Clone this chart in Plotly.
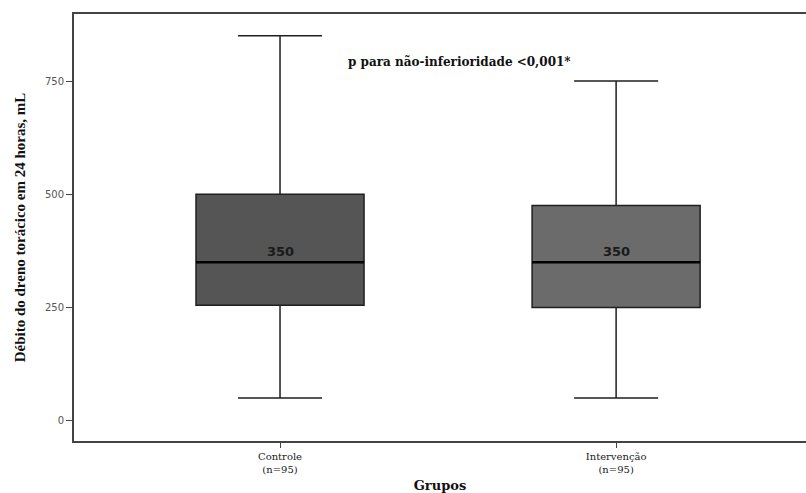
import plotly.graph_objects as go

# Chest drain output at 24 h per group (mL)
groups = ["Controle", "Intervenção"]
group_n = [95, 95]
lower_whisker = [50, 50]
q1 = [255, 250]
median = [350, 350]
q3 = [500, 475]
upper_whisker = [850, 750]
fills = ["#555555", "#6b6b6b"]

y_ticks = [0, 250, 500, 750]
p_text = "p para não-inferioridade <0,001*"
p_pos = (0.535, 792)

box_width = 0.5

fig = go.Figure()
for i, g in enumerate(groups):
    fig.add_trace(go.Box(
        x=[i],
        q1=[q1[i]], median=[median[i]], q3=[q3[i]],
        lowerfence=[lower_whisker[i]], upperfence=[upper_whisker[i]],
        width=box_width, whiskerwidth=0.5,
        fillcolor=fills[i],
        line=dict(color="#1f1f1f", width=1.5),
        boxpoints=False, hoverinfo="skip", showlegend=False,
    ))
    # thicker median bar
    fig.add_shape(type="line", x0=i - box_width / 2, x1=i + box_width / 2,
                  y0=median[i], y1=median[i],
                  line=dict(color="#000000", width=2.5))
    fig.add_annotation(x=i, y=median[i], text=f"<b>{median[i]}</b>",
                       showarrow=False, yanchor="bottom", yshift=1,
                       font=dict(family="DejaVu Sans", size=13, color="#1a1a1a"))

fig.add_annotation(x=p_pos[0], y=p_pos[1], text=f"<b>{p_text}</b>",
                   showarrow=False, xanchor="center", yanchor="middle",
                   font=dict(family="DejaVu Serif", size=12, color="#111111"))

fig.update_layout(
    width=806, height=493,
    margin=dict(l=74, r=0, t=14, b=52),
    paper_bgcolor="white", plot_bgcolor="white",
    xaxis=dict(
        range=[-0.613, 1.565],
        tickvals=list(range(len(groups))),
        ticktext=[f"{g}<br>(n={n})" for g, n in zip(groups, group_n)],
        ticks="outside", ticklen=5, tickcolor="#444444",
        showline=True, linecolor="#444444", linewidth=2, mirror=True,
        showgrid=False, zeroline=False,
        tickfont=dict(family="DejaVu Serif", size=10, color="#222222"),
        title=dict(text="<b>Grupos</b>", standoff=8,
                   font=dict(family="DejaVu Serif", size=13, color="#111111")),
    ),
    yaxis=dict(
        range=[-45, 898],
        tickvals=y_ticks,
        ticks="outside", ticklen=6, tickcolor="#444444",
        showline=True, linecolor="#444444", linewidth=2,
        showgrid=False, zeroline=False,
        tickfont=dict(family="DejaVu Sans", size=10, color="#555555"),
        title=dict(text="<b>Débito do dreno torácico em 24 horas, mL</b>", standoff=16,
                   font=dict(family="Liberation Serif", size=15, color="#111111")),
    ),
)

fig.write_html("out.html")
